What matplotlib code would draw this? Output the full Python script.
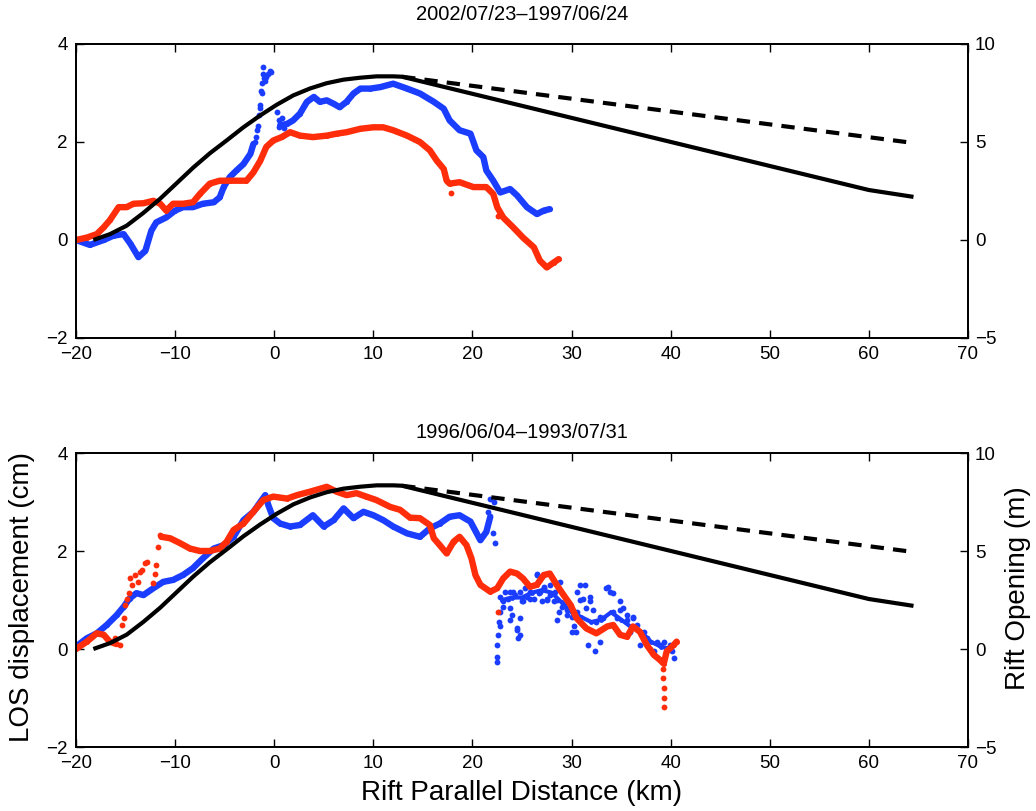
import matplotlib
matplotlib.use("Agg")
import matplotlib.pyplot as plt

plt.rcParams['font.family'] = ['Liberation Sans', 'DejaVu Sans']

# ---------------- data ----------------
x_ticks = [-20, -10, 0, 10, 20, 30, 40, 50, 60, 70]
los_ticks = [-2, 0, 2, 4]
open_ticks = [-5, 0, 5, 10]

# Rift opening model (m), same in both panels
model_x = [-18.25, -16.57, -14.89, -13.21, -11.52, -9.84, -8.16, -6.48, -4.80, -3.11,
           -1.43, 0.25, 1.93, 3.61, 5.29, 6.98, 8.66, 10.34, 12.02, 12.9, 60.0, 64.5]
model_open = [0.0, 0.3, 0.73, 1.38, 2.1, 2.9, 3.7, 4.43, 5.08, 5.75,
              6.35, 6.9, 7.38, 7.73, 8.0, 8.18, 8.28, 8.35, 8.35, 8.33, 2.55, 2.2]
alt_x = [12.9, 64.5]
alt_open = [8.33, 4.95]

# Panel 1: 2002/07/23-1997/06/24
top_title = "2002/07/23\u20131997/06/24"
top_blue_x1 = [-20, -18.6, -17.2, -16.2, -15.2, -14.5, -13.7, -13.0, -12.4, -11.9, -10.9,
               -10.0, -9.2, -8.2, -7.2, -6.1, -5.5, -5.1, -4.5, -3.8, -3.1, -2.4, -2.1]
top_blue_y1 = [0, -0.1, 0, 0.09, 0.12, -0.08, -0.35, -0.22, 0.19, 0.36, 0.46,
               0.6, 0.67, 0.67, 0.74, 0.77, 0.87, 1.08, 1.28, 1.42, 1.55, 1.76, 1.96]
top_blue_sx = [-1.9, -1.8, -1.7, -1.6, -1.5, -1.45, -1.4, -1.3, -1.25, -1.2, -1.1, -1.1,
               -1.0, -0.9, -0.8, -0.6, -0.45, -0.3, 0.3, 0.45, 0.5, 0.8, 1.0]
top_blue_sy = [2.0, 2.1, 2.25, 2.32, 2.55, 2.7, 2.75, 3.05, 3.0, 3.2, 3.39, 3.53,
               3.3, 3.25, 3.33, 3.38, 3.45, 3.43, 2.62, 2.45, 2.3, 2.5, 2.28]
top_blue_x2 = [0.6, 1.3, 1.9, 2.6, 3.3, 4.0, 4.6, 5.3, 6.0, 6.6, 7.3, 8.0, 8.7, 9.7, 10.7,
               12.0, 13.4, 14.7, 16.1, 17.1, 17.7, 18.7, 19.8, 20.4, 21.1, 21.4, 22.1,
               22.8, 23.8, 24.5, 25.5, 26.5, 27.2, 27.8]
top_blue_y2 = [2.34, 2.37, 2.44, 2.58, 2.82, 2.92, 2.82, 2.85, 2.78, 2.71, 2.82, 2.99, 3.09,
               3.09, 3.12, 3.19, 3.09, 2.99, 2.82, 2.68, 2.44, 2.24, 2.17, 1.83, 1.69, 1.42,
               1.21, 0.97, 1.04, 0.91, 0.67, 0.53, 0.6, 0.63]
top_red_x = [-20, -18.9, -17.9, -17.2, -16.6, -15.7, -14.9, -14.2, -13.2, -12.2, -11.5,
             -10.9, -10.2, -9.2, -8.2, -7.5, -6.5, -5.5, -4.5, -2.8, -2.1, -1.4, -0.8,
             -0.1, 0.75, 1.6, 2.6, 3.9, 5.3, 6.3, 7.3, 8.7, 10.0, 11.0, 12.0, 13.4, 14.7,
             15.7, 16.4, 17.1, 17.4, 17.7, 18.7, 20.1, 21.4, 22.1, 22.5, 23.1, 24.1,
             25.1, 26.2, 26.8, 27.5, 28.2, 28.7]
top_red_y = [0, 0.05, 0.12, 0.26, 0.4, 0.67, 0.67, 0.74, 0.75, 0.8, 0.74,
             0.6, 0.74, 0.74, 0.77, 0.94, 1.15, 1.21, 1.21, 1.21, 1.38, 1.62, 1.9,
             2.03, 2.1, 2.2, 2.13, 2.1, 2.13, 2.17, 2.2, 2.27, 2.3, 2.3, 2.24, 2.13, 2.0,
             1.83, 1.62, 1.45, 1.21, 1.15, 1.18, 1.08, 1.08, 0.94, 0.67, 0.46, 0.26,
             0.05, -0.15, -0.42, -0.56, -0.46, -0.39]
top_red_sx = [17.8, 22.6]
top_red_sy = [0.95, 0.5]

# Panel 2: 1996/06/04-1993/07/31
bot_title = "1996/06/04\u20131993/07/31"
bot_blue_x1 = [-20, -18.9, -17.9, -16.9, -15.9, -15.2, -14.6, -13.9, -13.2, -12.2, -11.2,
               -10.2, -9.2, -8.2, -7.2, -6.1, -5.1, -4.1, -3.1, -2.1, -1.4, -0.9, -0.6,
               -0.1, 0.6, 1.6, 2.6, 3.9, 5.0, 6.0, 7.0, 8.0, 9.0, 10.0, 11.0, 12.0, 13.4,
               14.7, 15.7, 16.7, 17.7, 18.7, 19.8, 20.8, 21.4, 21.8]
bot_blue_y1 = [0.05, 0.22, 0.32, 0.49, 0.69, 0.86, 1.03, 1.14, 1.1, 1.24, 1.37,
               1.41, 1.51, 1.65, 1.85, 2.05, 2.12, 2.29, 2.63, 2.8, 3.0, 3.14, 2.94,
               2.67, 2.56, 2.5, 2.53, 2.73, 2.5, 2.63, 2.87, 2.67, 2.8, 2.73, 2.63, 2.5, 2.36,
               2.29, 2.46, 2.56, 2.7, 2.73, 2.6, 2.22, 2.39, 2.7]
bot_blue_x2 = [23.0, 24.0, 25.0, 26.0, 27.0, 28.0, 29.0, 30.0, 31.0, 32.0, 33.0, 34.0,
               35.0, 36.0, 37.0, 38.0, 39.0, 40.0]
bot_blue_y2 = [1.0, 1.05, 1.05, 1.15, 1.2, 1.15, 0.95, 0.75, 0.65, 0.55, 0.6, 0.75,
               0.6, 0.45, 0.35, 0.15, 0.05, 0.0]
bot_blue_sx = [21.6, 21.8, 22.2, 22.3, 22.45, 22.5, 22.45, 22.6, 22.7, 22.8, 23.1, 23.3,
               23.6, 23.8, 24.0, 24.1, 24.5, 24.6, 24.8, 25.0, 25.3, 25.5, 25.8, 26.2,
               26.5, 26.7, 27.0, 27.2, 27.5, 27.8, 28.2, 28.3, 28.7, 28.8, 29.2, 29.5,
               30.0, 30.4, 30.5, 30.9, 31.2, 31.5, 31.7, 31.9, 32.4, 32.5, 32.9, 33.2,
               33.7, 33.9, 34.2, 34.6, 34.9, 35.2, 35.6, 35.9, 36.2, 36.6, 36.9, 37.3,
               37.6, 37.9, 38.3, 38.6, 38.9, 39.3, 39.6, 39.9, 40.1, 40.3,
               22.1, 22.8, 23.1, 23.8, 24.3, 24.8, 25.1, 25.8, 26.5, 26.8, 27.2, 27.5,
               27.8, 28.5, 29.0, 29.5, 30.0, 30.5, 30.9, 31.4, 31.9, 32.2, 32.9, 33.5,
               34.2, 34.9, 35.6, 36.2, 23.8, 24.5, 24.8, 22.8, 28.5, 30.2]
bot_blue_sy = [2.8, 3.07, 3.0, 2.16, -0.26, -0.16, 0.08, 0.29, 0.56, 0.76, 0.97, 1.17,
               1.03, 0.83, 0.69, 1.17, 0.42, 0.22, 0.63, 0.97, 1.24, 1.07, 1.17, 1.03,
               1.51, 1.14, 0.97, 1.24, 1.03, 1.31, 0.97, 1.17, 0.76, 1.37, 0.9, 0.69,
               0.35, 0.35, 1.17, 1.31, 1.03, 0.83, 0.08, 0.97, -0.05, 0.56, 0.15, 0.63,
               1.27, 1.17, 0.76, 0.63, 0.97, 0.83, 0.69, 0.35, 0.63, 0.49, 0.08, 0.35,
               0.22, 0.01, -0.05, 0.15, 0.08, 0.15, 0.01, 0.08, -0.05, -0.19,
               2.36, 1.07, 0.86, 1.17, 1.1, 1.17, 0.97, 1.03, 1.54, 1.17, 1.27, 1.0,
               1.1, 1.0, 0.86, 0.8, 0.66, 0.76, 1.0, 1.3, 1.07, 0.8, 0.66, 1.24,
               1.14, 0.8, 0.59, 0.66, 0.59, 0.39, 0.29, 0.46, 0.59, 0.46]
bot_red_x1 = [-20, -18.9, -17.9, -17.2, -16.6, -15.9]
bot_red_y1 = [0, 0.15, 0.32, 0.29, 0.15, 0.1]
bot_red_sx = [-16.1, -15.6, -15.4, -15.2, -15.1, -14.9, -14.7, -14.6, -14.3, -14.0,
              -13.7, -13.5, -13.3, -13.0, -12.8, -12.2, -12.0, -11.9, -11.7, -11.5,
              22.6, 39.2, 39.25, 39.3, 39.3, 39.3]
bot_red_sy = [0.22, 0.08, 0.49, 0.63, 0.9, 1.03, 1.14, 1.44, 1.31, 1.51,
              1.37, 1.58, 1.61, 1.75, 1.78, 1.34, 1.54, 1.71, 2.09, 2.33,
              0.76, -0.4, -0.6, -0.8, -1.0, -1.18]
bot_red_x2 = [-11.4, -10.5, -9.5, -8.5, -7.5, -6.5, -5.5, -4.8, -4.1, -3.1, -2.1, -1.1,
              -0.1, 1.3, 2.3, 3.6, 5.3, 6.3, 7.3, 8.3, 9.3, 10.3, 11.7, 12.7, 13.7, 14.7,
              15.7, 16.1, 16.7, 17.4, 18.1, 18.7, 19.4, 19.9, 20.3, 20.8, 21.8, 22.5, 23.1,
              23.8, 24.5, 25.1, 25.8, 26.5, 27.2, 27.8, 28.5, 29.2, 29.9, 30.5, 31.5, 32.5,
              33.6, 34.2, 34.9, 35.6, 36.2, 36.9, 37.6, 38.3, 38.9, 39.3, 39.6, 40.3, 40.6]
bot_red_y2 = [2.29, 2.26, 2.16, 2.05, 2.0, 2.0, 2.05, 2.19, 2.43, 2.56, 2.8, 3.04,
              3.11, 3.07, 3.14, 3.21, 3.31, 3.21, 3.14, 3.18, 3.11, 3.04, 2.9, 2.84, 2.68,
              2.67, 2.53, 2.26, 2.12, 1.95, 2.19, 2.29, 2.12, 1.85, 1.51, 1.31, 1.17, 1.24,
              1.44, 1.58, 1.54, 1.44, 1.27, 1.31, 1.51, 1.54, 1.31, 1.1, 0.9, 0.63, 0.42,
              0.32, 0.46, 0.49, 0.29, 0.25, 0.46, 0.35, 0.08, -0.12, -0.22, -0.3, -0.05,
              0.08, 0.15]

BLUE = "#1b3dff"
RED = "#ff2d0a"

# ---------------- figure ----------------
W, H = 1036, 811
fig = plt.figure(figsize=(W / 100, H / 100), dpi=100)


def rect(left, top, right, bottom):
    return [left / W, 1 - bottom / H, (right - left) / W, (bottom - top) / H]


def band(ax, x, y, color, lw=4.6):
    ax.plot(x, y, color=color, lw=lw, solid_capstyle='round', solid_joinstyle='round',
            marker='o', ms=3.5, mew=0, zorder=2)


def dots(ax, x, y, color):
    ax.plot(x, y, ls='none', marker='o', ms=4.2, mew=0, color=color, zorder=2)


def panel(r, title, title_gap, blue_parts, blue_dots, red_parts, red_dots):
    ax = fig.add_axes(r)
    ax2 = ax.twinx()
    ax.set_xlim(-20, 70)
    ax.set_ylim(-2, 4)
    ax2.set_ylim(-5, 10)
    ax.set_xticks(x_ticks)
    ax.set_yticks(los_ticks)
    ax2.set_yticks(open_ticks)
    for a in (ax, ax2):
        for s in a.spines.values():
            s.set_linewidth(1.3)
    ax.tick_params(direction='in', length=6, width=1.0, top=True, right=False,
                   labelsize=13.5, pad=6)
    ax2.tick_params(direction='in', length=6, width=1.0, labelsize=13.5, pad=5)

    for i, (x, y) in enumerate(blue_parts):
        band(ax, x, y, BLUE, lw=4.6 if i == 0 or len(x) > 20 else 3.0)
    dots(ax, *blue_dots, BLUE)
    for (x, y) in red_parts:
        band(ax, x, y, RED)
    dots(ax, *red_dots, RED)

    ax2.plot(model_x, model_open, color='black', lw=3.0, solid_capstyle='butt', zorder=3)
    ax2.plot(alt_x, alt_open, color='black', lw=3.0, dashes=(3.2, 2.2), zorder=3)
    height_px = r[3] * H
    ax.text(0.5, 1 + title_gap / height_px, title, transform=ax.transAxes,
            ha='center', va='center', fontsize=14.5)
    return ax, ax2


panel(rect(76, 44, 968, 338), top_title, 29,
      [(top_blue_x1, top_blue_y1), (top_blue_x2, top_blue_y2)],
      (top_blue_sx, top_blue_sy),
      [(top_red_x, top_red_y)],
      (top_red_sx, top_red_sy))

panel(rect(76, 453, 968, 747), bot_title, 21,
      [(bot_blue_x1, bot_blue_y1), (bot_blue_x2, bot_blue_y2)],
      (bot_blue_sx, bot_blue_sy),
      [(bot_red_x1, bot_red_y1), (bot_red_x2, bot_red_y2)],
      (bot_red_sx, bot_red_sy))

fig.text(22 / W, 1 - 597 / H, "LOS displacement (cm)", rotation=90,
         ha='center', va='center', fontsize=20)
fig.text(1018 / W, 1 - 588 / H, "Rift Opening (m)", rotation=90,
         ha='center', va='center', fontsize=20)
fig.text(522 / W, 1 - 793 / H, "Rift Parallel Distance (km)",
         ha='center', va='center', fontsize=20)

fig.savefig("out.png", dpi=100)
